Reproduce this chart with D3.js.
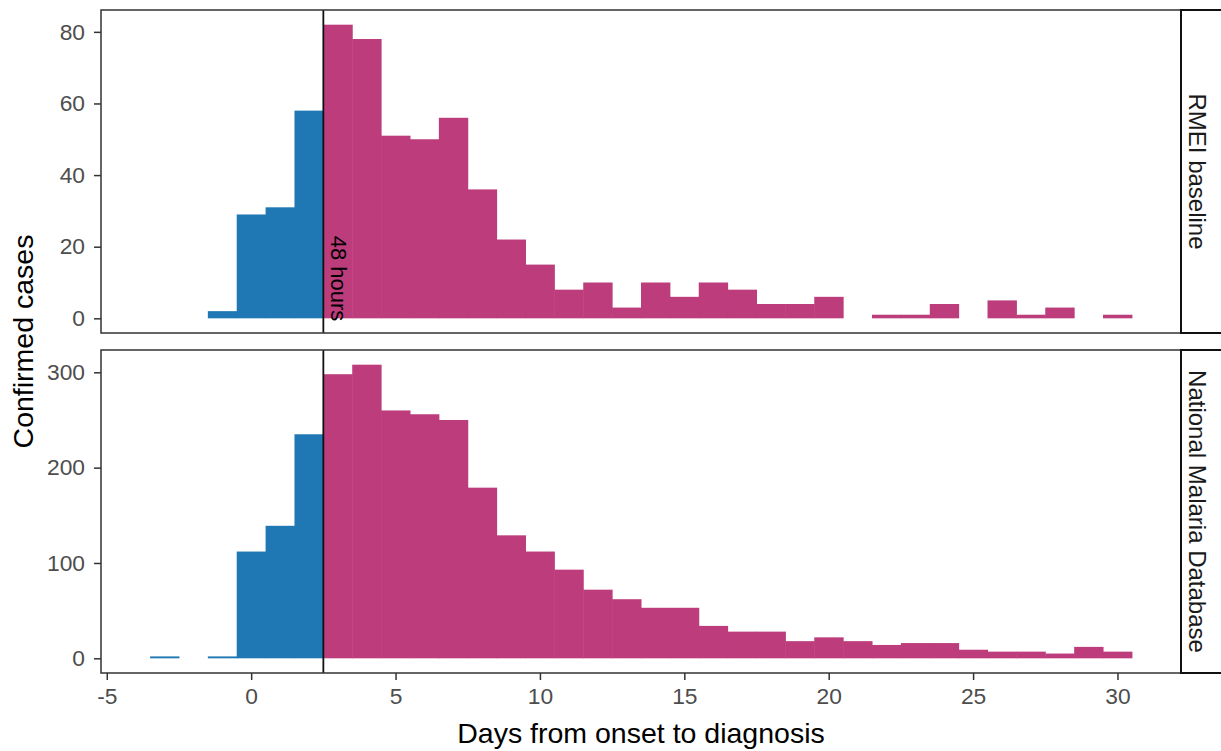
<!DOCTYPE html>
<html>
<head>
<meta charset="utf-8">
<script src="https://cdn.jsdelivr.net/npm/d3@7"></script>
<style>
  body { margin: 0; background: #fff; }
  svg { display: block; font-family: "Liberation Sans", Arial, sans-serif; }
</style>
</head>
<body>
<div id="chart"></div>
<script>
// days from onset to diagnosis, one bin per day
var days = [-3, -2, -1, 0, 1, 2, 3, 4, 5, 6, 7, 8, 9, 10, 11, 12, 13, 14, 15, 16,
            17, 18, 19, 20, 21, 22, 23, 24, 25, 26, 27, 28, 29, 30];
var rmeiCases = [0, 0, 2, 29, 31, 58, 82, 78, 51, 50, 56, 36, 22, 15, 8, 10, 3, 10, 6, 10,
                 8, 4, 4, 6, 0, 1, 1, 4, 0, 5, 1, 3, 0, 1];
var nmdCases = [2, 0, 2, 112, 139, 235, 298, 308, 260, 256, 250, 179, 129, 112, 93, 72, 62, 53, 53, 34,
                28, 28, 18, 22, 18, 14, 16, 16, 9, 7, 7, 5, 12, 7];
var facetNames = ['RMEI baseline', 'National Malaria Database'];
var xTicks = [-5, 0, 5, 10, 15, 20, 25, 30];
var yTicks = [[0, 20, 40, 60, 80], [0, 100, 200, 300]];
var cutoff = 2.5; // 48 hours

var width = 1221, height = 751;
var left = 101, right = 1181;
var panels = [{top: 10, bottom: 333}, {top: 350, bottom: 673}];
var blue = '#1f78b4', pink = '#bc3c7c';
var plain = function(d) { return String(d); }; // keep ascii hyphen for -5

var svg = d3.select('#chart').append('svg')
    .attr('width', width)
    .attr('height', height);

// ggplot style 5% expansion of the bin edges
var xmin = d3.min(days) - 0.5, xmax = d3.max(days) + 0.5;
var xpad = (xmax - xmin) * 0.05;
var x = d3.scaleLinear().domain([xmin - xpad, xmax + xpad]).range([left, right]);

[rmeiCases, nmdCases].forEach(function(values, i) {
    var p = panels[i];
    var ymax = d3.max(values);
    var y = d3.scaleLinear().domain([-ymax * 0.05, ymax * 1.05]).range([p.bottom, p.top]);
    var bins = days.map(function(d, j) { return {day: d, n: values[j]}; })
        .filter(function(b) { return b.n > 0; });

    var g = svg.append('g');

    g.selectAll('rect.bar')
        .data(bins)
      .enter().append('rect')
        .attr('class', 'bar')
        .attr('x', function(b) { return x(b.day - 0.5); })
        .attr('width', function(b) { return x(b.day + 0.5) - x(b.day - 0.5) + 0.5; })
        .attr('y', function(b) { return y(b.n); })
        .attr('height', function(b) { return y(0) - y(b.n); })
        .attr('fill', function(b) { return b.day < cutoff ? blue : pink; });

    // 48 hour cut-off
    g.append('line')
        .attr('x1', x(cutoff)).attr('x2', x(cutoff))
        .attr('y1', p.top).attr('y2', p.bottom)
        .attr('stroke', '#111')
        .attr('stroke-width', 1.8);

    if (i === 0) {
        g.append('text')
            .attr('transform', 'translate(' + (x(cutoff) + 8) + ',' + (y(0) + 3) + ') rotate(90)')
            .attr('text-anchor', 'end')
            .attr('font-size', 22)
            .attr('fill', '#000')
            .text('48 hours');
    }

    // panel border
    g.append('rect')
        .attr('x', left).attr('y', p.top)
        .attr('width', right - left).attr('height', p.bottom - p.top)
        .attr('fill', 'none')
        .attr('stroke', '#333')
        .attr('stroke-width', 1.5);

    // strip on the right
    g.append('rect')
        .attr('x', right).attr('y', p.top)
        .attr('width', 60).attr('height', p.bottom - p.top)
        .attr('fill', '#fff')
        .attr('stroke', '#111')
        .attr('stroke-width', 2);
    g.append('text')
        .attr('transform', 'translate(' + (right + 8) + ',' + ((p.top + p.bottom) / 2) + ') rotate(90)')
        .attr('text-anchor', 'middle')
        .attr('font-size', 24)
        .attr('fill', '#1a1a1a')
        .text(facetNames[i]);

    var yAxis = g.append('g')
        .attr('transform', 'translate(' + left + ',0)')
        .call(d3.axisLeft(y).tickValues(yTicks[i]).tickFormat(plain).tickSize(7).tickPadding(9));
    yAxis.select('.domain').remove();
    yAxis.selectAll('line').attr('stroke', '#333').attr('stroke-width', 1.5);
    yAxis.selectAll('text')
        .attr('font-size', 22.8)
        .attr('font-family', '"Liberation Sans", Arial, sans-serif')
        .attr('fill', '#4d4d4d');

    if (i === 1) {
        var xAxis = g.append('g')
            .attr('transform', 'translate(0,' + p.bottom + ')')
            .call(d3.axisBottom(x).tickValues(xTicks).tickFormat(plain).tickSize(7).tickPadding(8));
        xAxis.select('.domain').remove();
        xAxis.selectAll('line').attr('stroke', '#333').attr('stroke-width', 1.5);
        xAxis.selectAll('text')
            .attr('font-size', 22.8)
            .attr('font-family', '"Liberation Sans", Arial, sans-serif')
            .attr('fill', '#4d4d4d');
    }
});

// axis titles
svg.append('text')
    .attr('x', (left + right) / 2)
    .attr('y', 743)
    .attr('text-anchor', 'middle')
    .attr('font-size', 28.5)
    .attr('fill', '#000')
    .text('Days from onset to diagnosis');

svg.append('text')
    .attr('transform', 'translate(33,' + ((panels[0].top + panels[1].bottom) / 2) + ') rotate(-90)')
    .attr('text-anchor', 'middle')
    .attr('font-size', 28.5)
    .attr('fill', '#000')
    .text('Confirmed cases');
</script>
</body>
</html>
